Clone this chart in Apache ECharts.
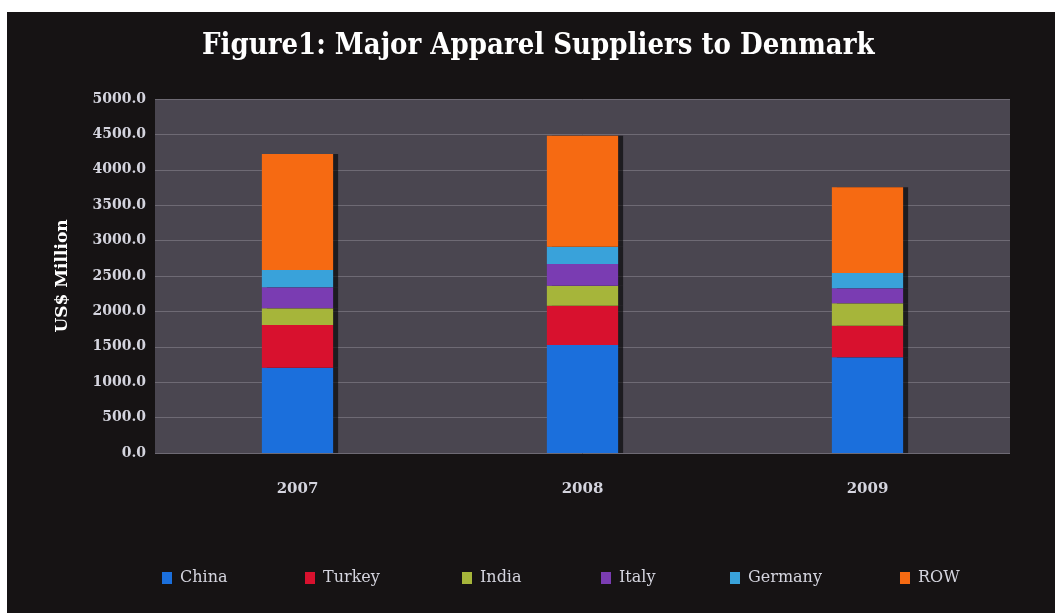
<!DOCTYPE html>
<html>
<head>
<meta charset="utf-8">
<script src="https://cdn.jsdelivr.net/npm/echarts@6/dist/echarts.min.js"></script>
<style>
html,body{margin:0;padding:0;background:#fff;}
#c{width:1055px;height:613px;}
</style>
</head>
<body>
<div id="c"></div>
<script>
const categories = ['2007', '2008', '2009'];
const seriesNames = ['China', 'Turkey', 'India', 'Italy', 'Germany', 'ROW'];
const china   = [1205, 1525, 1351];
const turkey  = [603, 556, 447];
const india   = [236, 282, 316];
const italy   = [296, 306, 212];
const germany = [245, 245, 216];
const row     = [1638, 1568, 1211];
const yTicks = { min: 0, max: 5000, interval: 500 };

const colors = ['#1b6fdc', '#d8112e', '#a6b53a', '#7a3cb2', '#39a2da', '#f66a12'];
const values = [china, turkey, india, italy, germany, row];
const legendLeft = [157, 300, 457, 596, 725, 895];

const font = '"DejaVu Serif", "Liberation Serif", serif';
const chart = echarts.init(document.getElementById('c'));
chart.setOption({
  backgroundColor: '#161314',
  animation: false,
  color: colors,
  title: {
    text: 'Figure1: Major Apparel Suppliers to Denmark',
    left: 197, top: 27,
    textStyle: { color: '#ffffff', fontFamily: '"DejaVu Serif Condensed", "DejaVu Serif", serif', fontWeight: 'bold', fontSize: 29 }
  },
  graphic: [
    { type: 'rect', shape: { x: 0, y: 0, width: 1055, height: 12 }, style: { fill: '#ffffff' }, z: 100 },
    { type: 'rect', shape: { x: 0, y: 0, width: 7, height: 613 }, style: { fill: '#ffffff' }, z: 100 }
  ],
  legend: seriesNames.map((n, i) => ({
    data: [n], left: legendLeft[i], top: 565,
    itemWidth: 10, itemHeight: 12, icon: 'rect',
    textStyle: { color: '#d4d4de', fontFamily: font, fontSize: 16, padding: [0, 0, 0, 3] }
  })),
  grid: { left: 155, right: 45, top: 99, bottom: 160, backgroundColor: '#4a4650', show: true, borderWidth: 0 },
  xAxis: {
    type: 'category', data: categories,
    axisLine: { show: false }, axisTick: { show: false },
    axisLabel: { color: '#d4d4de', fontFamily: font, fontWeight: 'bold', fontSize: 15, margin: 29 }
  },
  yAxis: {
    type: 'value', min: yTicks.min, max: yTicks.max, interval: yTicks.interval,
    name: 'US$ Million', nameLocation: 'middle', nameGap: 84, nameRotate: 90,
    nameTextStyle: { color: '#ffffff', fontFamily: font, fontWeight: 'bold', fontSize: 17 },
    axisLine: { show: false }, axisTick: { show: false },
    axisLabel: { color: '#d4d4de', fontFamily: font, fontWeight: 'bold', fontSize: 14, margin: 9, formatter: v => v.toFixed(1) },
    splitLine: { lineStyle: { color: '#6e6a74', width: 1 } }
  },
  series: seriesNames.map((n, i) => ({
    name: n, type: 'bar', stack: 'total', barWidth: '25%',
    data: values[i],
    itemStyle: { color: colors[i], shadowColor: 'rgba(0,0,0,0.6)', shadowOffsetX: 5, shadowBlur: 0 }
  }))
});
</script>
</body>
</html>
